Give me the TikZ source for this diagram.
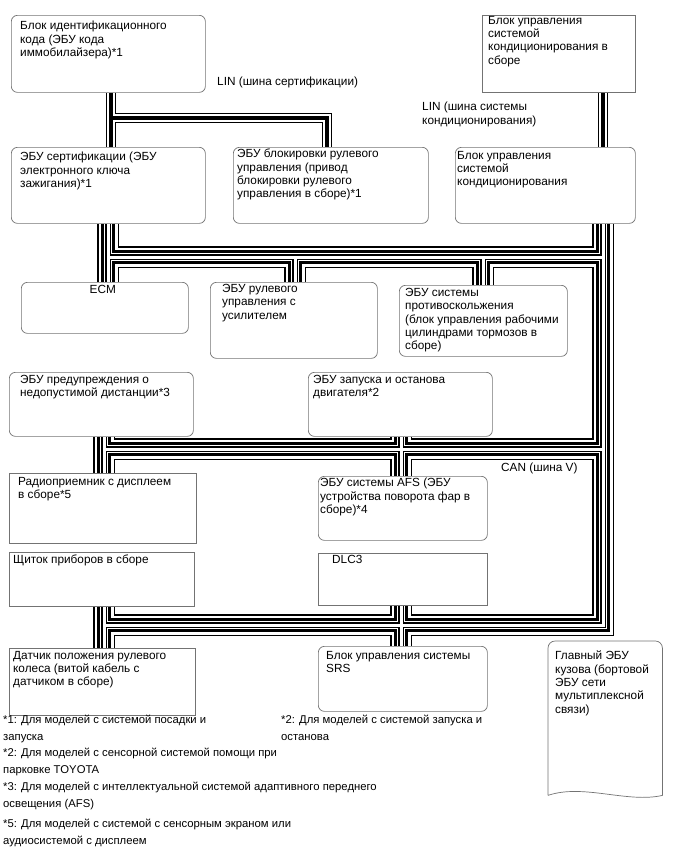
\documentclass[tikz,border=0pt]{standalone}
\usepackage{fontspec}
\setmainfont{Liberation Sans}
\usetikzlibrary{backgrounds, calc}

\tikzset{
  ecu/.style={draw=black!55, line width=0.7pt, fill=white, rounded corners=6pt, anchor=north west, inner sep=0pt},
  ecusq/.style={ecu, sharp corners},
  txt/.style={anchor=north west, inner sep=0pt, align=left, font=\fontsize{11.8}{13.3}\selectfont},
  note/.style={txt, font=\fontsize{11.3}{16.5}\selectfont},
  linbus/.style={preaction={draw=black, line width=10.4pt}, preaction={draw=white, line width=8pt}, draw=black, line width=3.5pt},
  canbus/.style={preaction={draw=black, line width=21.4pt}, preaction={draw=white, line width=19pt},
    preaction={draw=black, line width=14.5pt}, preaction={draw=white, line width=7.5pt},
    preaction={draw=black, line width=5.4pt}, draw=white, line width=3pt}
}

\begin{document}
\begin{tikzpicture}[x=1pt, y=-1pt]
  \useasboundingbox (0,0) rectangle (688,852);

  % ECUs
  \node[ecu, minimum width=194pt, minimum height=77pt] (idc) at (11,15) {};
  \node[ecusq, minimum width=153pt, minimum height=77pt] (acasm) at (482,15) {};
  \node[ecu, minimum width=194pt, minimum height=76pt] (cert) at (11,147) {};
  \node[ecu, minimum width=195pt, minimum height=76pt] (lock) at (233,147) {};
  \node[ecu, minimum width=180pt, minimum height=76pt] (acunit) at (455,147) {};
  \node[ecu, minimum width=167pt, minimum height=51pt] (ecm) at (21,282) {};
  \node[ecu, minimum width=167pt, minimum height=76pt] (eps) at (210,282) {};
  \node[ecu, minimum width=168pt, minimum height=71pt] (skid) at (399,285) {};
  \node[ecu, minimum width=184pt, minimum height=64pt] (dist) at (9,372) {};
  \node[ecu, minimum width=184pt, minimum height=64pt] (stst) at (308,372) {};
  \node[ecusq, minimum width=187pt, minimum height=70pt] (radio) at (9,473) {};
  \node[ecu, minimum width=169pt, minimum height=64pt] (afs) at (318,476) {};
  \node[ecusq, minimum width=185pt, minimum height=54pt] (meter) at (9,552) {};
  \node[ecusq, minimum width=169pt, minimum height=52pt] (dlc) at (318,553) {};
  \node[ecusq, minimum width=186pt, minimum height=67pt] (sens) at (9,648) {};
  \node[ecu, minimum width=169pt, minimum height=65pt] (srs) at (318,646) {};
  \node[anchor=north west, inner sep=0pt, minimum width=114pt, minimum height=154pt] (bcm) at (548,641) {};
  \draw[draw=black!55, line width=0.7pt, fill=white] (bcm.south west) [rounded corners=7pt] -- (bcm.north west)
    -- (bcm.north east) [sharp corners] -- (bcm.south east)
    .. controls +(-35,8) and +(35,-12) .. (bcm.south west);

  % texts
  \node[txt] (idc-t) at ([shift={(9,6)}]idc.north west) {Блок идентификационного\\кода (ЭБУ кода\\иммобилайзера)*1};
  \node[txt] (acasm-t) at ([shift={(6,1)}]acasm.north west) {Блок управления\\системой\\кондиционирования в\\сборе};
  \node[txt] (cert-t) at ([shift={(9,5)}]cert.north west) {ЭБУ сертификации (ЭБУ\\электронного ключа\\зажигания)*1};
  \node[txt] (lock-t) at ([shift={(4,2)}]lock.north west) {ЭБУ блокировки рулевого\\управления (привод\\блокировки рулевого\\управления в сборе)*1};
  \node[txt] (acunit-t) at ([shift={(2,4)}]acunit.north west) {Блок управления\\системой\\кондиционирования};
  \node[txt, anchor=north] (ecm-t) at ([shift={(-2,3)}]ecm.north) {ECM};
  \node[txt] (eps-t) at ([shift={(12,2)}]eps.north west) {ЭБУ рулевого\\управления с\\усилителем};
  \node[txt] (skid-t) at ([shift={(6,3)}]skid.north west) {ЭБУ системы\\противоскольжения\\(блок управления рабочими\\цилиндрами тормозов в\\сборе)};
  \node[txt] (dist-t) at ([shift={(11,3)}]dist.north west) {ЭБУ предупреждения о\\недопустимой дистанции*3};
  \node[txt] (stst-t) at ([shift={(5,3)}]stst.north west) {ЭБУ запуска и останова\\двигателя*2};
  \node[txt] (radio-t) at ([shift={(9,4)}]radio.north west) {Радиоприемник с дисплеем\\в сборе*5};
  \node[txt] (afs-t) at ([shift={(2,2)}]afs.north west) {ЭБУ системы AFS (ЭБУ\\устройства поворота фар в\\сборе)*4};
  \node[txt] (meter-t) at ([shift={(4,3)}]meter.north west) {Щиток приборов в сборе};
  \node[txt] (dlc-t) at ([shift={(14,2)}]dlc.north west) {DLC3};
  \node[txt] (sens-t) at ([shift={(4,3)}]sens.north west) {Датчик положения рулевого\\колеса (витой кабель с\\датчиком в сборе)};
  \node[txt] (srs-t) at ([shift={(8,5)}]srs.north west) {Блок управления системы\\SRS};
  \node[txt] (bcm-t) at ([shift={(7,10)}]bcm.north west) {Главный ЭБУ\\кузова (бортовой\\ЭБУ сети\\мультиплексной\\связи)};

  % bus labels
  \node[txt] (lincert) at (217,77) {LIN (шина сертификации)};
  \node[txt] (linac) at (422,102) {LIN (шина системы\\кондиционирования)};
  \node[txt] (canv) at (501,463) {CAN (шина V)};

  % notes
  \node[note] (note1) at (3,715) {*1: Для моделей с системой посадки и\\запуска};
  \node[note] (note2) at (281,715) {*2: Для моделей с системой запуска и\\останова};
  \node[note] (note2b) at (3,748) {*2: Для моделей с сенсорной системой помощи при\\парковке TOYOTA};
  \node[note] (note3) at (3,782) {*3: Для моделей с интеллектуальной системой адаптивного переднего\\освещения (AFS)};
  \node[note] (note5) at (3,819) {*5: Для моделей с системой с сенсорным экраном или\\аудиосистемой с дисплеем};

  % bus points
  \coordinate (lin1) at (111,118);
  \coordinate (lin2) at (327,118);
  \coordinate (a1) at (108,257);
  \coordinate (a2) at (295,257);
  \coordinate (a3) at (483,257);
  \coordinate (a4) at (603,257);
  \coordinate (b1) at (104,449);
  \coordinate (b2) at (401,449);
  \coordinate (b3) at (603,449);
  \coordinate (c1) at (104,625);
  \coordinate (c3) at (603,625);

  \begin{scope}[on background layer]
    \draw[linbus] (idc.south -| lin1) -- (cert.north -| lin1)
      (lin1) -- (lin2) -- (lock.north -| lin2)
      (acasm.south -| a4) -- (acunit.north -| a4);
    \draw[canbus] (cert.south -| a1) -- (ecm.north -| a1)
      (a1) -- (a4)
      (a2) -- (eps.north -| a2)
      (a3) -- (skid.north -| a3)
      (acunit.south -| a4) -- (c3) -- (c1)
      (dist.south -| b1) -- (radio.north -| b1)
      (meter.south -| c1) -- (sens.north -| c1)
      (b1) -- (b3)
      (stst.south -| b2) -- (afs.north -| b2)
      (dlc.south -| b2) -- (srs.north -| b2);
  \end{scope}
\end{tikzpicture}
\end{document}
